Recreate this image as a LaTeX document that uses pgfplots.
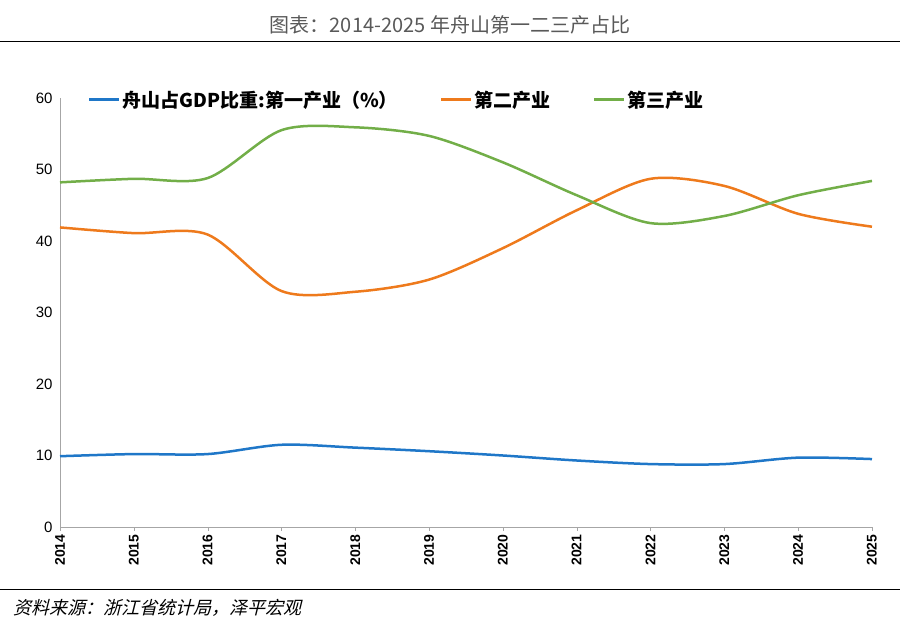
\documentclass[border=0pt]{standalone}
\usepackage{pgfplots}
\pgfplotsset{compat=1.18}
\usepackage{fontspec}
\setmainfont{Liberation Sans}
\newfontfamily\cjk{Noto Sans CJK SC}
\definecolor{cA}{HTML}{1F77C8}
\definecolor{cB}{HTML}{EE7A1C}
\definecolor{cC}{HTML}{72AE48}
\begin{document}
\begin{tikzpicture}[x=1pt,y=1pt]
\path[use as bounding box] (-60,-107) rectangle (840,527);
\begin{axis}[at={(0,0)},anchor=origin,scale only axis,width=812pt,height=429pt,
 xmin=2014,xmax=2025,ymin=0,ymax=60,
 xtick={2014,...,2025},ytick={0,10,...,60},
 xticklabel style={rotate=90,anchor=east,font=\fontsize{14}{16}\selectfont\bfseries},
 yticklabel style={font=\fontsize{15}{17}\selectfont},
 /pgf/number format/assume math mode=true,
 x tick label style={/pgf/number format/1000 sep=},
 axis x line*=bottom, axis y line*=left,
 axis line style={gray!70,-},
 tick align=outside, tick style={gray!70}, major tick length=4pt,
 ytick style={draw=none},
 legend columns=3,
 legend style={draw=none,fill=none,at={(0.03,0.965)},anchor=south west,
   font=\fontsize{19}{21}\selectfont\cjk\bfseries,
   /tikz/every even column/.append style={column sep=40pt}},
 legend image code/.code={\draw[#1,line width=3pt] (0pt,0pt) -- (30pt,0pt);},
]
\addplot[cA,line width=2.5pt,smooth,tension=0.5] coordinates {(2014,9.9)(2015,10.2)(2016,10.2)(2017,11.5)(2018,11.1)(2019,10.6)(2020,10.0)(2021,9.3)(2022,8.8)(2023,8.8)(2024,9.7)(2025,9.5)};
\addlegendentry{舟山占GDP比重:第一产业（\%）}
\addplot[cB,line width=2.5pt,smooth,tension=0.5] coordinates {(2014,41.9)(2015,41.1)(2016,40.9)(2017,33.0)(2018,32.9)(2019,34.6)(2020,39.0)(2021,44.3)(2022,48.7)(2023,47.7)(2024,43.8)(2025,42.0)};
\addlegendentry{第二产业}
\addplot[cC,line width=2.5pt,smooth,tension=0.5] coordinates {(2014,48.2)(2015,48.7)(2016,48.8)(2017,55.5)(2018,55.9)(2019,54.7)(2020,51.0)(2021,46.4)(2022,42.5)(2023,43.5)(2024,46.4)(2025,48.4)};
\addlegendentry{第三产业}
\end{axis}
\node[font=\fontsize{20}{22}\selectfont\cjk,gray!70!black] at (390,502) {图表：2014-2025 年舟山第一二三产占比};
\draw[black,line width=1pt] (-60,485) -- (840,485);
\draw[black,line width=1pt] (-60,-63) -- (840,-63);
\node[anchor=west,font=\fontsize{18}{20}\selectfont\cjk,xslant=0.25] at (-48,-81) {资料来源：浙江省统计局，泽平宏观};
\end{tikzpicture}
\end{document}
